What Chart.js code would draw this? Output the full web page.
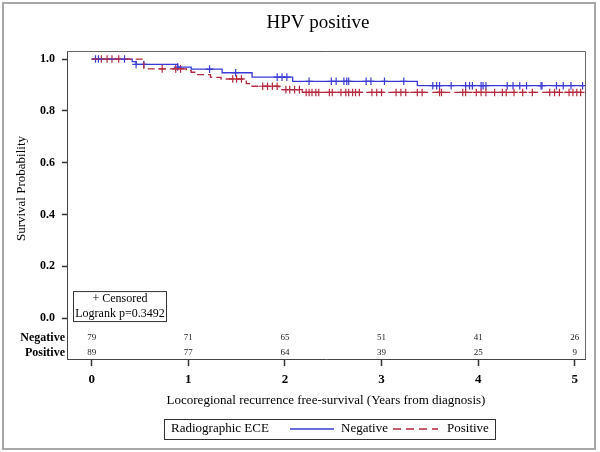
<!DOCTYPE html>
<html>
<head>
<meta charset="utf-8">
<script src="https://cdn.jsdelivr.net/npm/chart.js@4"></script>
<style>
  body { margin: 0; background: #fff; }
  #wrap { width: 600px; height: 452px; }
</style>
</head>
<body>
<div id="wrap"><canvas id="kmChart" width="600" height="452"></canvas></div>
<script>
const chartTitle = "HPV positive";
const groupTitle = "Radiographic ECE";
const groupNames = ["Negative", "Positive"];

// Kaplan-Meier steps (years, survival)
const negTimes = [0, 0.42, 0.46, 0.89, 1.03, 1.35, 1.66, 2.08, 3.37, 5.1];
const negSurv = [1.0, 0.99, 0.979, 0.969, 0.961, 0.947, 0.930, 0.914, 0.897, 0.897];
const posTimes = [0, 0.54, 0.98, 1.03, 1.08, 1.23, 1.34, 1.6, 1.66, 1.94, 2.18, 5.1];
const posSurv = [1.0, 0.962, 0.955, 0.949, 0.940, 0.929, 0.923, 0.905, 0.895, 0.882, 0.871, 0.871];

// censoring times
const negCensored = [0.04, 0.07, 0.34, 0.46, 0.54, 0.89, 1.22, 1.49, 1.92, 1.97, 2.02, 2.25, 2.48, 2.53, 2.61, 2.64, 2.66,
  2.84, 2.89, 3.03, 3.23, 3.53, 3.57, 3.6, 3.72, 3.87, 3.91, 3.94, 4.03, 4.05, 4.08, 4.3, 4.36, 4.43, 4.5, 4.65, 4.66,
  4.81, 4.88, 4.96, 5.08];
const posCensored = [0.1, 0.16, 0.21, 0.28, 0.73, 0.87, 0.92, 1.46, 1.5, 1.55, 1.77, 1.82, 1.87, 1.92, 2.01, 2.05, 2.1,
  2.15, 2.22, 2.25, 2.28, 2.32, 2.35, 2.46, 2.49, 2.58, 2.63, 2.66, 2.7, 2.73, 2.77, 2.9, 2.95, 3.0, 3.15, 3.2, 3.25,
  3.37, 3.42, 3.6, 3.62, 3.84, 3.87, 3.98, 4.03, 4.08, 4.17, 4.25, 4.29, 4.37, 4.46, 4.56, 4.74, 4.79, 4.84, 4.94,
  4.98, 5.02, 5.06];

// numbers at risk
const riskTimes = [0, 1, 2, 3, 4, 5];
const negAtRisk = [79, 71, 65, 51, 41, 26];
const posAtRisk = [89, 77, 64, 39, 25, 9];

const xTicks = [0, 1, 2, 3, 4, 5];
const yTicks = [0, 0.2, 0.4, 0.6, 0.8, 1.0];
const logrankText = "Logrank p=0.3492";

const blue = "#3a3ad6";
const red = "#b5283d";
const serif = "'Liberation Serif', 'Times New Roman', serif";

const toPoints = (times, surv) => times.map((t, i) => ({ x: t, y: surv[i] }));

const survAt = (times, surv, t) => {
  let s = surv[0];
  times.forEach((tt, i) => { if (tt <= t) s = surv[i]; });
  return s;
};
const censorPoints = (cens, times, surv) => cens.map(t => ({ x: t, y: survAt(times, surv, t) }));

const kmDecor = {
  id: 'kmDecor',
  afterDraw(chart) {
    const { ctx, chartArea: a, scales: { x, y } } = chart;
    ctx.save();

    // outer frame
    ctx.strokeStyle = '#a8a8a8';
    ctx.lineWidth = 2;
    ctx.strokeRect(3, 3, 592, 446);

    // top / right side of plot box
    ctx.strokeStyle = '#666';
    ctx.lineWidth = 1;
    ctx.beginPath();
    ctx.moveTo(a.left, a.top + 0.5);
    ctx.lineTo(a.right + 0.5, a.top + 0.5);
    ctx.lineTo(a.right + 0.5, a.bottom);
    ctx.stroke();

    ctx.fillStyle = '#000';
    ctx.textAlign = 'center';
    ctx.textBaseline = 'middle';
    ctx.font = `19px ${serif}`;
    ctx.fillText(chartTitle, 318, 23);

    // y title centred on the 0..1 range
    ctx.save();
    ctx.translate(22, (y.getPixelForValue(0) + y.getPixelForValue(1)) / 2);
    ctx.rotate(-Math.PI / 2);
    ctx.font = `13px ${serif}`;
    ctx.fillText("Survival Probability", 0, 0);
    ctx.restore();

    // at-risk table
    const rows = [negAtRisk, posAtRisk];
    const rowY = [a.bottom - 21, a.bottom - 6];
    rows.forEach((row, r) => {
      ctx.textAlign = 'right';
      ctx.font = `bold 12px ${serif}`;
      ctx.fillText(groupNames[r], a.left - 2, rowY[r]);
      ctx.textAlign = 'center';
      ctx.font = `9px ${serif}`;
      ctx.fillStyle = '#222';
      row.forEach((n, i) => {
        ctx.fillText(String(n), x.getPixelForValue(riskTimes[i]), rowY[r]);
      });
      ctx.fillStyle = '#000';
    });

    // censored / logrank box
    const bx = a.left + 6, by = y.getPixelForValue(0) - 27;
    ctx.strokeStyle = '#333';
    ctx.strokeRect(bx + 0.5, by + 0.5, 93, 30);
    ctx.font = `12px ${serif}`;
    ctx.textAlign = 'center';
    ctx.fillText("+ Censored", bx + 47, by + 8);
    ctx.fillText(logrankText, bx + 47, by + 23);

    // legend
    const ly = 429;
    ctx.strokeStyle = '#333';
    ctx.strokeRect(164.5, 419.5, 331, 20);
    ctx.font = `13px ${serif}`;
    ctx.textAlign = 'left';
    ctx.fillText(groupTitle, 171, ly);
    ctx.lineWidth = 1.5;
    ctx.strokeStyle = blue;
    ctx.beginPath(); ctx.moveTo(290, ly); ctx.lineTo(334, ly); ctx.stroke();
    ctx.fillText(groupNames[0], 341, ly);
    ctx.strokeStyle = red;
    ctx.setLineDash([8, 5]);
    ctx.beginPath(); ctx.moveTo(393, ly); ctx.lineTo(438, ly); ctx.stroke();
    ctx.setLineDash([]);
    ctx.fillText(groupNames[1], 447, ly);

    ctx.restore();
  }
};

const ctx = document.getElementById('kmChart');
new Chart(ctx, {
  type: 'line',
  data: {
    datasets: [
      {
        label: groupNames[1],
        data: toPoints(posTimes, posSurv),
        borderColor: red,
        borderWidth: 1.3,
        borderDash: [7, 4],
        stepped: 'before',
        pointRadius: 0,
        fill: false
      },
      {
        label: groupNames[0],
        data: toPoints(negTimes, negSurv),
        borderColor: blue,
        borderWidth: 1.3,
        stepped: 'before',
        pointRadius: 0,
        fill: false
      },
      {
        label: 'pos censored',
        data: censorPoints(posCensored, posTimes, posSurv),
        showLine: false,
        pointStyle: 'cross',
        pointRadius: 3.8,
        pointBorderWidth: 1.2,
        borderColor: red,
        pointBorderColor: red
      },
      {
        label: 'neg censored',
        data: censorPoints(negCensored, negTimes, negSurv),
        showLine: false,
        pointStyle: 'cross',
        pointRadius: 3.8,
        pointBorderWidth: 1.2,
        borderColor: blue,
        pointBorderColor: blue
      }
    ]
  },
  options: {
    responsive: false,
    animation: false,
    layout: { padding: { top: 51, right: 15, left: 0, bottom: 0 } },
    plugins: {
      legend: { display: false },
      tooltip: { enabled: false }
    },
    scales: {
      x: {
        type: 'linear',
        min: -0.255,
        max: 5.105,
        afterFit: s => { s.height = 93; },
        afterBuildTicks: s => { s.ticks = xTicks.map(v => ({ value: v })); },
        grid: { drawOnChartArea: false, tickLength: 7, color: '#333', tickWidth: 1.5 },
        border: { color: '#444', width: 1 },
        ticks: {
          color: '#000',
          padding: 6,
          font: { family: serif, size: 13, weight: 'bold' },
          callback: v => String(v)
        },
        title: {
          display: true,
          text: 'Locoregional recurrence free-survival (Years from diagnosis)',
          color: '#000',
          font: { family: serif, size: 13 },
          padding: { top: 0, bottom: 44 }
        }
      },
      y: {
        min: -0.158,
        max: 1.031,
        afterFit: s => { s.width = 67; },
        afterBuildTicks: s => { s.ticks = yTicks.map(v => ({ value: v })); },
        grid: { drawOnChartArea: false, tickLength: 5, color: '#333', tickWidth: 1.5 },
        border: { color: '#444', width: 1 },
        ticks: {
          color: '#000',
          padding: 7,
          font: { family: serif, size: 12, weight: 'bold' },
          callback: v => v.toFixed(1)
        }
      }
    }
  },
  plugins: [kmDecor]
});
</script>
</body>
</html>
